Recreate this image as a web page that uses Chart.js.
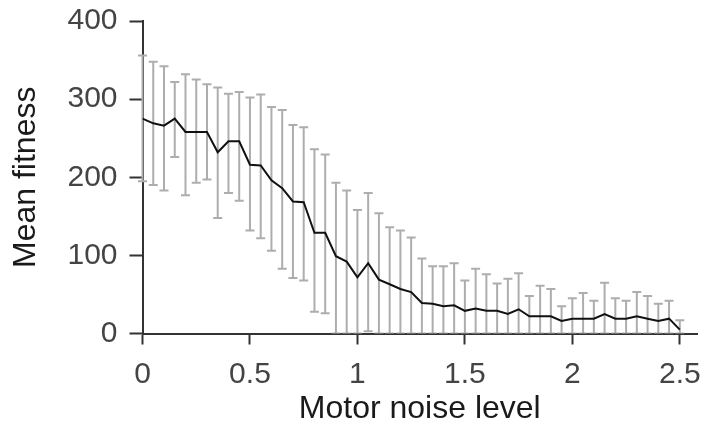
<!DOCTYPE html>
<html>
<head>
<meta charset="utf-8">
<script src="https://cdn.jsdelivr.net/npm/chart.js@4/dist/chart.umd.min.js"></script>
<style>
  html, body { margin: 0; padding: 0; background: #fff; }
  #wrap { width: 704px; height: 432px; }
</style>
</head>
<body>
<div id="wrap"><canvas id="fitChart" width="704" height="432"></canvas></div>
<script>
// motor noise levels (x)
var noise = [0, 0.05, 0.1, 0.15, 0.2, 0.25, 0.3, 0.35, 0.4, 0.45,
  0.5, 0.55, 0.6, 0.65, 0.7, 0.75, 0.8, 0.85, 0.9, 0.95,
  1, 1.05, 1.1, 1.15, 1.2, 1.25, 1.3, 1.35, 1.4, 1.45,
  1.5, 1.55, 1.6, 1.65, 1.7, 1.75, 1.8, 1.85, 1.9, 1.95,
  2, 2.05, 2.1, 2.15, 2.2, 2.25, 2.3, 2.35, 2.4, 2.45, 2.5];

// mean fitness
var meanFit = [275, 269, 266, 275, 258, 258, 258, 232, 246, 246,
  216, 215, 196, 186, 169, 168, 129, 129, 99, 92,
  72, 90, 69, 63, 57, 53, 39, 38, 35, 36,
  29, 32, 29, 29, 25, 31, 22, 22, 22, 16,
  19, 19, 19, 25, 19, 19, 22, 19, 16, 19, 5];

// error bar ends (upper / lower)
var errHigh = [356, 348, 342, 322, 332, 325, 319, 315, 307, 309,
  302, 306, 290, 286, 267, 264, 236, 229, 193, 183,
  158, 180, 154, 136, 132, 123, 96, 86, 86, 90,
  68, 83, 76, 64, 70, 77, 48, 61, 57, 35,
  45, 52, 42, 65, 45, 42, 53, 48, 38, 42, 17];
var errLow = [195, 190, 183, 226, 177, 193, 197, 148, 180, 170,
  132, 122, 106, 83, 71, 68, 28, 26, 0, 0,
  0, 3, 0, 0, 0, 0, 0, 0, 0, 0,
  0, 0, 0, 0, 0, 0, 0, 0, 0, 0,
  0, 0, 0, 0, 0, 0, 0, 0, 0, 0, 0];

var yTicks = [0, 100, 200, 300, 400];
var xTicks = [0, 0.5, 1, 1.5, 2, 2.5];
var xLabels = ['0', '0.5', '1', '1.5', '2', '2.5'];

var FONT = '"Liberation Sans", Arial, sans-serif';

var points = noise.map(function (n, i) { return { x: n, y: meanFit[i] }; });

// gray error bars with caps, drawn before the mean line
var errorBars = {
  id: 'errorBars',
  beforeDatasetsDraw: function (chart) {
    var c = chart.ctx, xs = chart.scales.x, ys = chart.scales.y, a = chart.chartArea;
    c.save();
    c.beginPath();
    c.rect(a.left - 6, a.top - 2, a.right - a.left + 12, a.bottom - a.top + 2);
    c.clip();
    c.strokeStyle = '#adadad';
    c.lineWidth = 2;
    for (var i = 0; i < noise.length; i++) {
      var px = xs.getPixelForValue(noise[i]);
      var top = ys.getPixelForValue(errHigh[i]);
      var bot = ys.getPixelForValue(errLow[i]);
      c.beginPath();
      c.moveTo(px, top); c.lineTo(px, bot);
      c.moveTo(px - 4.5, top); c.lineTo(px + 4.5, top);
      c.moveTo(px - 4.5, bot); c.lineTo(px + 4.5, bot);
      c.stroke();
    }
    c.restore();
  }
};

new Chart(document.getElementById('fitChart'), {
  type: 'line',
  data: {
    datasets: [{
      data: points,
      borderColor: '#111',
      borderWidth: 2,
      pointRadius: 0,
      tension: 0,
      fill: false
    }]
  },
  options: {
    responsive: false,
    animation: false,
    layout: { padding: { top: 21, right: 7, bottom: 0, left: 0 } },
    plugins: { legend: { display: false }, tooltip: { enabled: false } },
    scales: {
      x: {
        type: 'linear',
        min: 0,
        max: 2.58,
        afterFit: function (s) { s.height = 98.5; s.paddingLeft = 0; s.paddingRight = 0; },
        afterBuildTicks: function (s) { s.ticks = xTicks.map(function (v) { return { value: v }; }); },
        border: { color: '#333', width: 2 },
        grid: { drawOnChartArea: false, drawTicks: true, tickLength: 11, tickColor: '#333', tickWidth: 2 },
        ticks: {
          color: '#444', padding: 12, maxRotation: 0, font: { family: FONT, size: 30 },
          callback: function (v, i) { return xLabels[i]; }
        },
        title: { display: true, text: 'Motor noise level', color: '#1a1a1a', padding: { top: 0, bottom: 4 }, font: { family: FONT, size: 32 } }
      },
      y: {
        min: 0,
        max: 400,
        afterFit: function (s) { s.width = 142.5; s.paddingTop = 0; s.paddingBottom = 0; },
        afterBuildTicks: function (s) { s.ticks = yTicks.map(function (v) { return { value: v }; }); },
        border: { color: '#333', width: 2 },
        grid: { drawOnChartArea: false, drawTicks: true, tickLength: 13, tickColor: '#333', tickWidth: 2 },
        ticks: { color: '#444', padding: 12, font: { family: FONT, size: 30 } },
        title: { display: true, text: 'Mean fitness', color: '#1a1a1a', padding: { top: 7, bottom: 0 }, font: { family: FONT, size: 32 } }
      }
    }
  },
  plugins: [errorBars]
});
</script>
</body>
</html>
